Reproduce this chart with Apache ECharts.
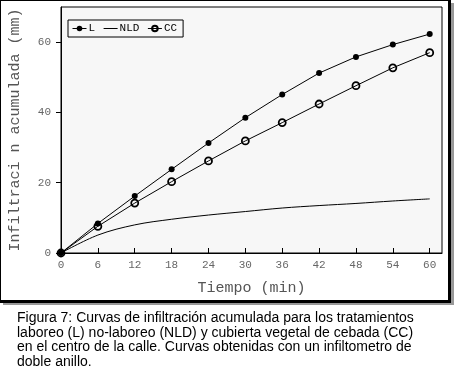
<!DOCTYPE html>
<html><head><meta charset="utf-8">
<script src="https://cdn.jsdelivr.net/npm/echarts@6/dist/echarts.min.js"></script>
<style>html,body{margin:0;padding:0;background:#fff}#c{width:454px;height:379px}</style>
</head><body><div id="c"></div>
<script>
var times = [0, 6, 12, 18, 24, 30, 36, 42, 48, 54, 60];
var seriesL = [0, 8.4, 16.2, 23.8, 31.3, 38.5, 45.1, 51.2, 55.8, 59.3, 62.3];
var seriesNLD = [0, 5.1, 8.0, 9.6, 10.8, 11.8, 12.8, 13.5, 14.1, 14.8, 15.4];
var seriesCC = [0, 7.6, 14.2, 20.3, 26.2, 31.9, 37.1, 42.4, 47.6, 52.7, 57.0];
var seriesNames = ['L', 'NLD', 'CC'];
var xTitle = 'Tiempo (min)';
var yTitle = 'Infiltraci n acumulada (mm)';
var captionLines = [
  'Figura 7: Curvas de infiltración acumulada para los tratamientos',
  'laboreo (L) no-laboreo (NLD) y cubierta vegetal de cebada (CC)',
  'en el centro de la calle. Curvas obtenidas con un infiltometro de',
  'doble anillo.'
];

function pairs(vals) { return times.map(function (t, i) { return [t, vals[i]]; }); }

var mono = '"Liberation Mono", "DejaVu Sans Mono", monospace';
var chart = echarts.init(document.getElementById('c'), null, {renderer: 'canvas'});

var graphics = [
  {type: 'rect', z: -10, shape: {x: 3, y: 3, width: 451, height: 302}, style: {fill: '#999'}, silent: true},
  {type: 'rect', z: -9, shape: {x: 0, y: 0, width: 451, height: 303}, style: {fill: '#000'}, silent: true},
  {type: 'rect', z: -8, shape: {x: 1, y: 1, width: 447, height: 299}, style: {fill: '#fff'}, silent: true}
];
captionLines.forEach(function (line, i) {
  graphics.push({
    type: 'text', left: 17, top: 311 + i * 14.7, silent: true,
    style: {text: line, font: '14px "Liberation Sans", Arial, sans-serif', fill: '#000'}
  });
});

chart.setOption({
  animation: false,
  graphic: graphics,
  grid: {left: 60, top: 7, right: 12, bottom: 126, show: true, backgroundColor: '#f7f7f7',
         borderColor: '#000', borderWidth: 1, containLabel: false},
  legend: {
    left: 68, top: 20, orient: 'horizontal',
    data: [
      {name: seriesNames[0], lineStyle: {width: 1}},
      {name: seriesNames[1], itemStyle: {opacity: 0}, lineStyle: {width: 1}},
      {name: seriesNames[2], lineStyle: {width: 1}}
    ],
    backgroundColor: '#f7f7f7', borderColor: '#000', borderWidth: 1, borderRadius: 0,
    padding: [3, 6, 3, 4], itemGap: 8, itemWidth: 14, itemHeight: 7,
    textStyle: {fontFamily: mono, fontSize: 11, color: '#000', padding: [0, 0, 0, -3]}
  },
  xAxis: {
    type: 'value', min: 0, max: 62, interval: 6,
    name: xTitle, nameLocation: 'middle', nameGap: 28,
    nameTextStyle: {fontFamily: mono, fontSize: 15, color: '#555'},
    axisLine: {show: true, onZero: false, lineStyle: {color: '#000', width: 1}},
    axisTick: {show: true, inside: true, length: 5, lineStyle: {color: '#000'}},
    axisLabel: {fontFamily: mono, fontSize: 11, color: '#666', margin: 7, showMaxLabel: false},
    splitLine: {show: false}
  },
  yAxis: {
    type: 'value', min: 0, max: 70, interval: 20,
    name: yTitle, nameLocation: 'middle', nameGap: 38, nameRotate: 90,
    nameTextStyle: {fontFamily: mono, fontSize: 15, color: '#555'},
    axisLine: {show: true, lineStyle: {color: '#000', width: 1}},
    axisTick: {show: true, inside: false, length: 5, lineStyle: {color: '#000'}},
    axisLabel: {fontFamily: mono, fontSize: 11, color: '#666', margin: 10, showMaxLabel: false},
    splitLine: {show: false}
  },
  series: [
    {name: seriesNames[0], type: 'line', data: pairs(seriesL), symbol: 'circle', symbolSize: 6,
     lineStyle: {color: '#000', width: 1}, itemStyle: {color: '#000'}, z: 3},
    {name: seriesNames[1], type: 'line', data: pairs(seriesNLD), symbol: 'none', smooth: 0.35,
     lineStyle: {color: '#000', width: 1}, itemStyle: {color: '#000'}, z: 2},
    {name: seriesNames[2], type: 'line', data: pairs(seriesCC), symbol: 'circle', symbolSize: 7,
     lineStyle: {color: '#000', width: 1},
     itemStyle: {color: 'rgba(0,0,0,0)', borderColor: '#000', borderWidth: 1.8}, z: 3}
  ]
});
</script></body></html>
